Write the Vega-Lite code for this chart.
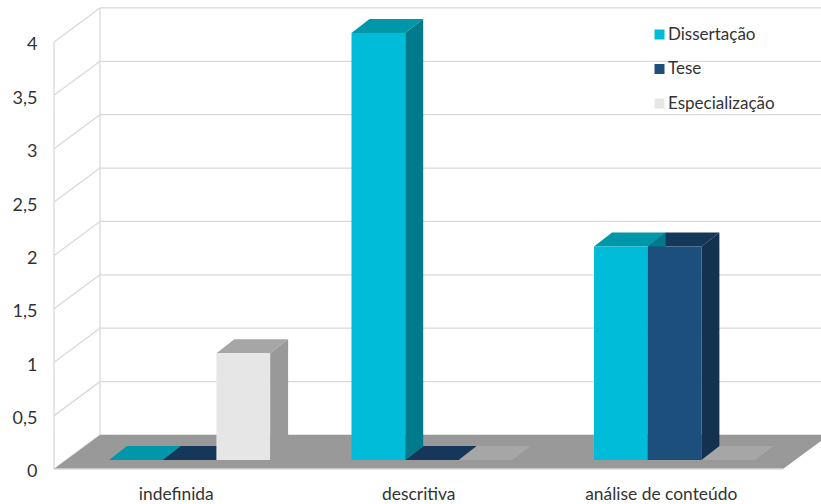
{
"$schema":"https://vega.github.io/schema/vega-lite/v6.json",
"width":821,"height":504,"padding":0,"autosize":{"type":"none"},"background":"white",
"config":{"view":{"stroke":null},"font":"Lato","axis":{"grid":false,"ticks":false,"domain":false,"title":null}},
"datasets":{
"bars":[
{"category":"indefinida","series":"Dissertação","value":0},
{"category":"indefinida","series":"Tese","value":0},
{"category":"indefinida","series":"Especialização","value":1},
{"category":"descritiva","series":"Dissertação","value":4},
{"category":"descritiva","series":"Tese","value":0},
{"category":"descritiva","series":"Especialização","value":0},
{"category":"análise de conteúdo","series":"Dissertação","value":2},
{"category":"análise de conteúdo","series":"Tese","value":2},
{"category":"análise de conteúdo","series":"Especialização","value":0}],
"grid":[{"value":0},{"value":0.5},{"value":1},{"value":1.5},{"value":2},{"value":2.5},{"value":3},{"value":3.5},{"value":4}],
"floor":[{"depth":0,"left":-1.024,"right":12.55},{"depth":0.3185,"left":-0.168,"right":13.41}]
},
"layer":[
{"data":{"name":"grid"},"transform":[{"calculate":"datum.value+0.3185","as":"back"}],
 "mark":{"type":"rule","color":"#d9d9d9","strokeWidth":1.3},
 "encoding":{
  "x":{"datum":-0.168,"type":"quantitative","scale":{"domain":[-2.03,13.259],"range":[0,821],"nice":false,"zero":false},
    "axis":{"title":null,"values":[1.243,5.759,10.275],"orient":"bottom","offset":-21,"domain":false,"ticks":false,"grid":false,"labelPadding":2,"labelFontSize":17.4,"labelColor":"#333333",
    "labelExpr":"datum.value<3?'indefinida':datum.value<7?'descritiva':'análise de conteúdo'"}},
  "x2":{"datum":13.259},
  "y":{"field":"back","type":"quantitative","scale":{"domain":[-0.328,4.393],"range":[504,0],"nice":false,"zero":false},
    "axis":{"title":null,"values":[0,0.5,1,1.5,2,2.5,3,3.5,4],"orient":"left","offset":-39,"domain":false,"ticks":false,"grid":false,"labelPadding":2,"labelOffset":3,"labelFontSize":18,"labelColor":"#333333",
    "labelExpr":"replace(format(datum.value,'~g'),'.',',')"}},
  "y2":{"field":"back"}}},
{"data":{"name":"grid"},"transform":[{"calculate":"datum.value+0.3185","as":"back"}],
 "mark":{"type":"rule","color":"#d9d9d9","strokeWidth":1.3},
 "encoding":{"x":{"datum":-1.024,"type":"quantitative"},"x2":{"datum":-0.168},
  "y":{"field":"value","type":"quantitative"},"y2":{"field":"back"}}},
{"data":{"values":[{"from":0,"to":4,"at":-1.024},{"from":0.3185,"to":4.3185,"at":-0.168}]},
 "mark":{"type":"rule","color":"#d9d9d9","strokeWidth":1.3},
 "encoding":{"x":{"field":"at","type":"quantitative"},
  "y":{"field":"from","type":"quantitative"},"y2":{"field":"to"}}},
{"data":{"name":"floor"},
 "mark":{"type":"area","orient":"horizontal","color":"#999999","clip":true},
 "encoding":{"y":{"field":"depth","type":"quantitative","stack":null},
  "x":{"field":"left","type":"quantitative","stack":null},"x2":{"field":"right"}}},
{"data":{"values":[{"from":-1.024,"to":12.55,"at":0}]},
 "mark":{"type":"rule","color":"#d9d9d9","strokeWidth":1.3},
 "encoding":{"x":{"field":"from","type":"quantitative"},"x2":{"field":"to"},
  "y":{"field":"at","type":"quantitative"}}},
{"data":{"name":"bars"},
 "transform":[
  {"calculate":"indexof(['indefinida','descritiva','análise de conteúdo'],datum.category)*4.516+indexof(['Dissertação','Tese','Especialização'],datum.series)","as":"start"},
  {"calculate":"[0,1]","as":"t"},{"flatten":["t"]},
  {"calculate":"0.084+datum.value+datum.t*0.131","as":"yy"},
  {"calculate":"datum.start+datum.t*0.335","as":"xa"},
  {"calculate":"datum.start+1+datum.t*0.335","as":"xb"}],
 "mark":{"type":"area","orient":"horizontal"},
 "encoding":{"y":{"field":"yy","type":"quantitative","stack":null},
  "x":{"field":"xa","type":"quantitative","stack":null},"x2":{"field":"xb"},
  "detail":{"field":"category"},
  "color":{"field":"series","type":"nominal","legend":null,"scale":{"domain":["Dissertação","Tese","Especialização"],"range":["#0097AA","#15375A","#A6A6A6"]}}}},
{"data":{"name":"bars"},
 "transform":[
  {"calculate":"indexof(['indefinida','descritiva','análise de conteúdo'],datum.category)*4.516+indexof(['Dissertação','Tese','Especialização'],datum.series)","as":"start"},
  {"calculate":"[0,1]","as":"t"},{"flatten":["t"]},
  {"calculate":"0.084+datum.value+datum.t*0.131","as":"yt"},
  {"calculate":"0.084+datum.t*0.131","as":"yb"},
  {"calculate":"datum.start+1+datum.t*0.335","as":"xx"}],
 "mark":{"type":"area","orient":"vertical"},
 "encoding":{"x":{"field":"xx","type":"quantitative","stack":null},
  "y":{"field":"yt","type":"quantitative","stack":null},"y2":{"field":"yb"},
  "detail":{"field":"category"},
  "color":{"field":"series","type":"nominal","legend":null,"scale":{"domain":["Dissertação","Tese","Especialização"],"range":["#007A8C","#14324F","#999999"]}}}},
{"data":{"name":"bars"},
 "transform":[
  {"calculate":"indexof(['indefinida','descritiva','análise de conteúdo'],datum.category)*4.516+indexof(['Dissertação','Tese','Especialização'],datum.series)","as":"start"},
  {"calculate":"datum.start+1","as":"end"},
  {"calculate":"0.084+datum.value","as":"top"},
  {"calculate":"0.084","as":"base"}],
 "mark":{"type":"bar"},
 "encoding":{"x":{"field":"start","type":"quantitative"},"x2":{"field":"end"},
  "y":{"field":"top","type":"quantitative","stack":null},"y2":{"field":"base"},
  "color":{"field":"series","type":"nominal","scale":{"domain":["Dissertação","Tese","Especialização"],"range":["#00BCD8","#1C4F7C","#E6E6E6"]},
   "legend":{"title":null,"orient":"none","legendX":651,"legendY":26,"symbolType":"square","symbolSize":100,"symbolStrokeWidth":0,"labelFontSize":17,"labelColor":"#333333","rowPadding":16.5,"labelOffset":0,"padding":0}}}}
],
"resolve":{"scale":{"color":"independent"},"legend":{"color":"independent"}}
}
